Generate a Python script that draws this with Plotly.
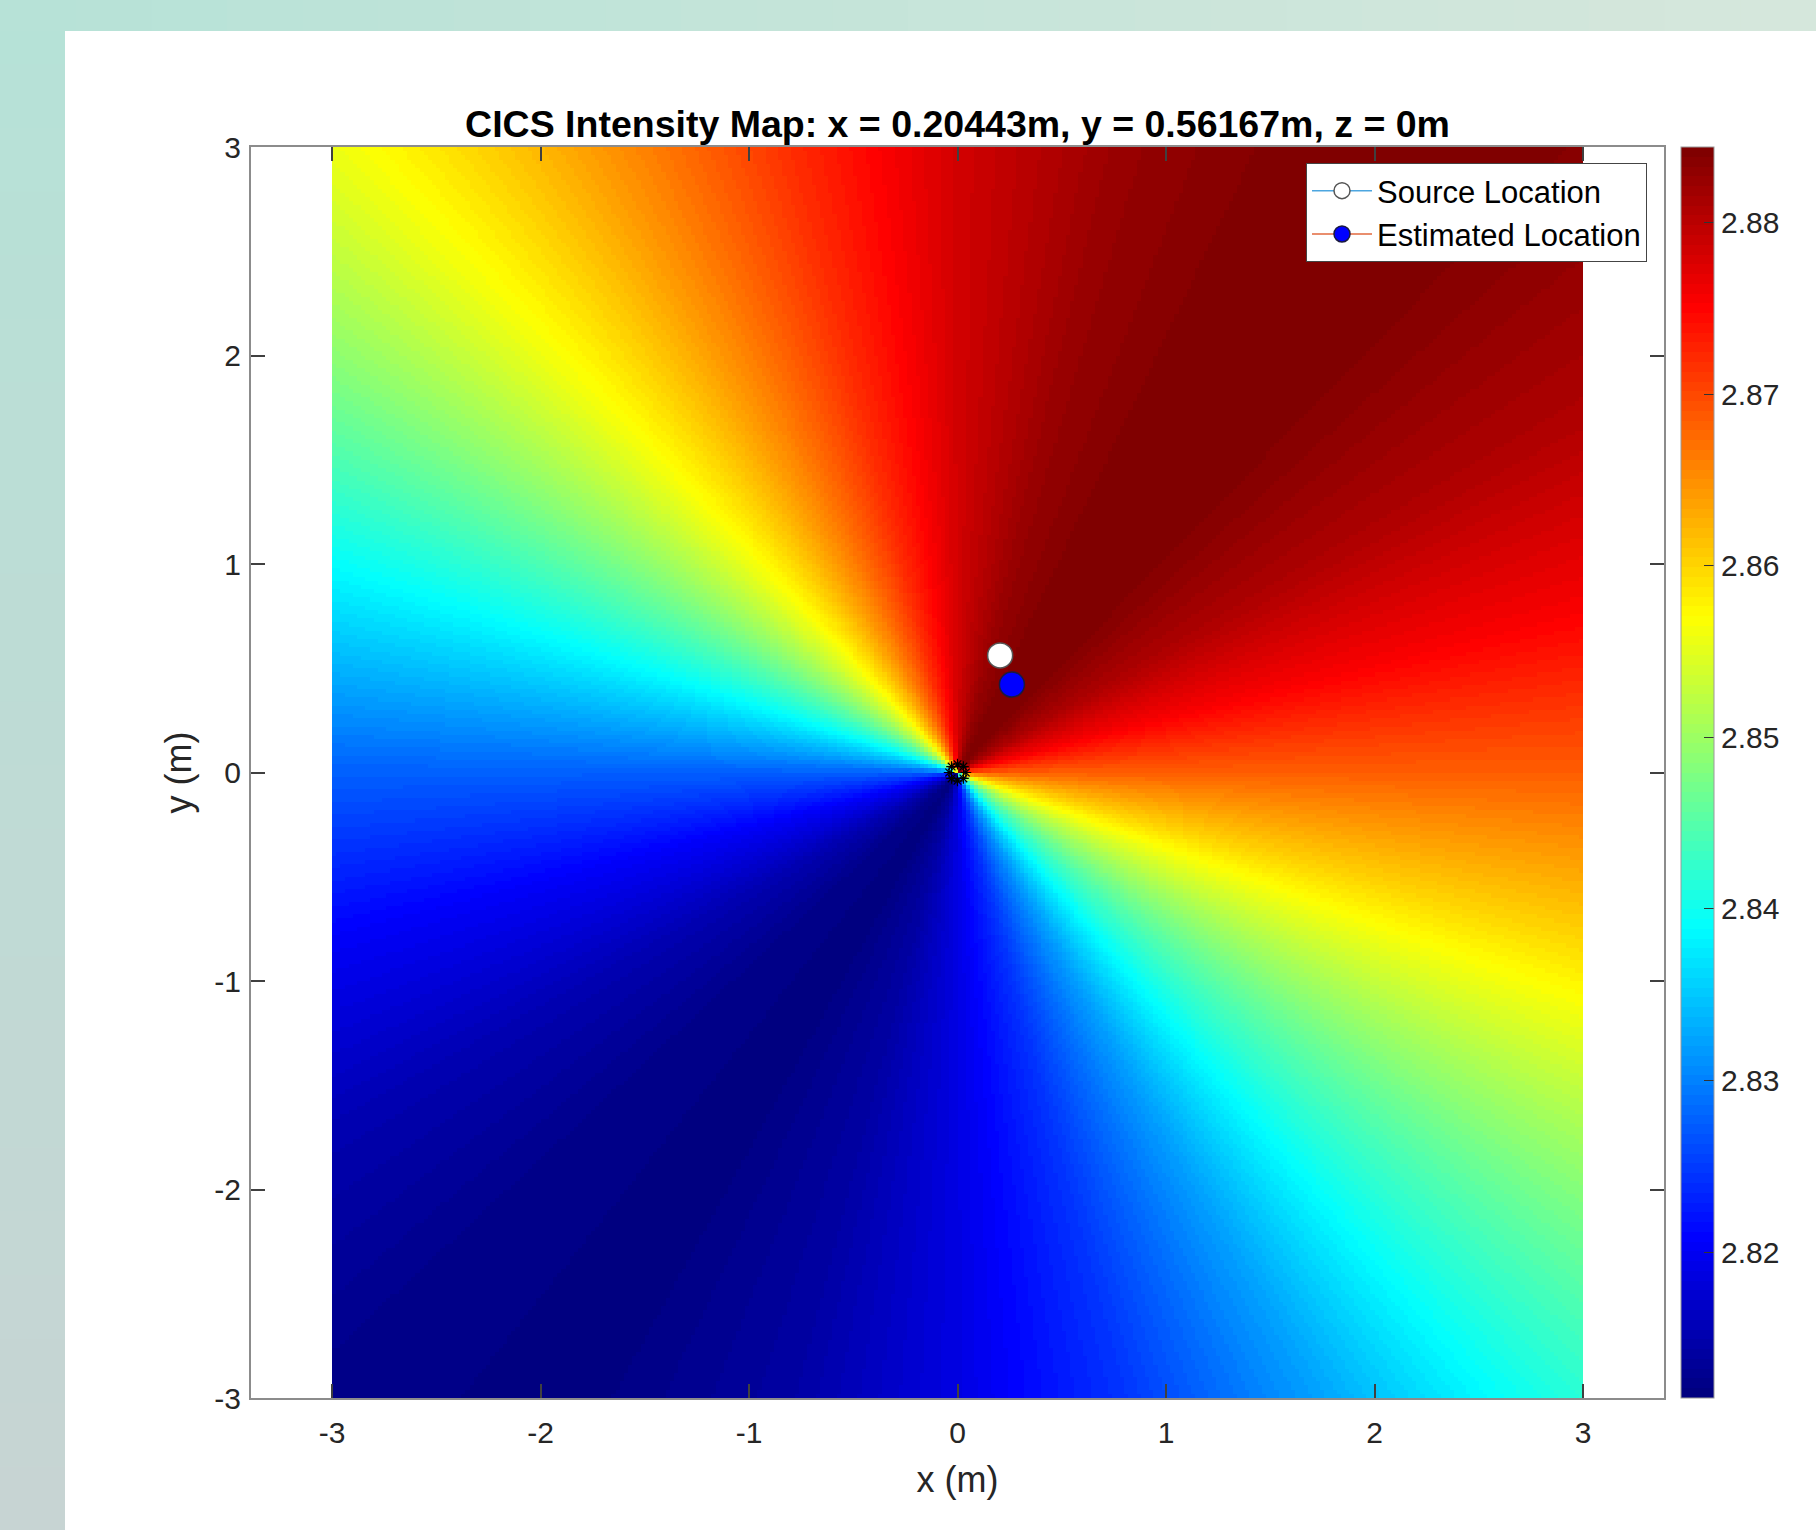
import numpy as np
import plotly.graph_objects as go

# ---------------- data ----------------
# intensity along directions around the array centre (degrees from +x axis)
angle_deg = [0, 15, 30, 45, 60, 75, 90, 105, 120, 135, 150, 165,
             180, 195, 210, 225, 240, 255, 270, 285, 300, 315, 330, 345]
intensity = [2.8684, 2.8756, 2.8808, 2.8838, 2.8844, 2.8825, 2.8783, 2.8719,
             2.8642, 2.8558, 2.8465, 2.8368, 2.8276, 2.8204, 2.8152, 2.8122,
             2.8119, 2.8142, 2.8188, 2.8245, 2.8322, 2.8418, 2.8506, 2.8599]
map_extent = [-3, 3]          # metres, square map
z_min, z_max = 2.8115, 2.8844

source_x, source_y = [0.20443], [0.56167]
estimated_x, estimated_y = [0.261], [0.422]
mic_angle_deg = [0, 45, 90, 135, 180, 225, 270, 315]
mic_radius = 0.04

x_tick_vals = [-3, -2, -1, 0, 1, 2, 3]
x_tick_text = ["-3", "-2", "-1", "0", "1", "2", "3"]
y_tick_vals = [-3, -2, -1, 0, 1, 2, 3]
y_tick_text = ["-3", "-2", "-1", "0", "1", "2", "3"]
cbar_tick_vals = [2.82, 2.83, 2.84, 2.85, 2.86, 2.87, 2.88]
cbar_tick_text = ["2.82", "2.83", "2.84", "2.85", "2.86", "2.87", "2.88"]

title_text = "CICS Intensity Map: x = 0.20443m, y = 0.56167m, z = 0m"

# ---------------- build the map grid ----------------
step = 0.02
centers = np.arange(map_extent[0] + step / 2, map_extent[1], step)
GX, GY = np.meshgrid(centers, centers)
theta = np.degrees(np.arctan2(GY, GX)) % 360
Z = np.interp(theta, angle_deg, intensity, period=360)

# discretised jet colormap
def jet(n):
    out = []
    for i in range(n):
        t = i / (n - 1)
        r = np.clip(1.5 - abs(4 * t - 3), 0, 1)
        g = np.clip(1.5 - abs(4 * t - 2), 0, 1)
        b = np.clip(1.5 - abs(4 * t - 1), 0, 1)
        out.append(f"rgb({int(round(r*255))},{int(round(g*255))},{int(round(b*255))})")
    return out

N = 128
cols = jet(N)
cscale = []
for i, c in enumerate(cols):
    cscale.append([i / N, c])
    cscale.append([(i + 1) / N, c])

FONT = "Liberation Sans, Arial, Helvetica, sans-serif"

fig = go.Figure()
fig.add_trace(go.Heatmap(
    x=centers, y=centers, z=Z, zmin=z_min, zmax=z_max,
    colorscale=cscale, hoverinfo="skip", showlegend=False,
    colorbar=dict(
        x=1.012, xanchor="left", y=0.5, yanchor="middle", len=1, lenmode="fraction",
        thickness=33, xpad=0, ypad=0, outlinecolor="#9a9a9a", outlinewidth=1,
        ticks="inside", ticklen=10, tickcolor="#333333", tickwidth=1,
        tickvals=cbar_tick_vals, ticktext=cbar_tick_text,
        tickfont=dict(family=FONT, size=30, color="#262626"),
    ),
))

mx = [mic_radius * np.cos(np.radians(a)) for a in mic_angle_deg]
my = [mic_radius * np.sin(np.radians(a)) for a in mic_angle_deg]
fig.add_trace(go.Scatter(
    x=mx, y=my, mode="markers", showlegend=False, hoverinfo="skip",
    marker=dict(symbol="asterisk-open", size=9, color="black",
                line=dict(color="black", width=1.2)),
))

fig.add_trace(go.Scatter(
    x=source_x, y=source_y, mode="lines+markers", name="Source Location",
    line=dict(color="#4DA6E0", width=1.5),
    marker=dict(size=25, color="white", line=dict(color="#555555", width=1.5)),
))
fig.add_trace(go.Scatter(
    x=estimated_x, y=estimated_y, mode="lines+markers", name="Estimated Location",
    line=dict(color="#E2683E", width=1.5),
    marker=dict(size=25, color="#0000FF", line=dict(color="#1a1a40", width=1.5)),
))

W, H = 1816, 1530
L, R, T, B = 251, 152, 147, 132
pw, ph = W - L - R, H - T - B
half = 3 * pw / ph

def px(xp):
    return (xp - L) / pw

def py(yp):
    return (H - B - yp) / ph

def mix(c1, c2, t):
    a = [int(c1[i:i+2], 16) for i in (1, 3, 5)]
    b = [int(c2[i:i+2], 16) for i in (1, 3, 5)]
    return "#" + "".join(f"{int(round(a[k] + (b[k]-a[k])*t)):02x}" for k in range(3))

shapes = []
TL, BL, TR = "#b6e2d7", "#c7d4d3", "#d6e7dc"
nb = 24
for i in range(nb):
    y0p, y1p = H * i / nb, H * (i + 1) / nb + 3
    shapes.append(dict(type="rect", xref="paper", yref="paper", layer="below",
                       x0=px(-5), x1=px(65), y0=py(y1p), y1=py(y0p - (5 if i == 0 else 0)),
                       fillcolor=mix(TL, BL, (i + 0.5) / nb), line=dict(width=0)))
for i in range(nb):
    x0p, x1p = W * i / nb, W * (i + 1) / nb + 3
    shapes.append(dict(type="rect", xref="paper", yref="paper", layer="below",
                       x0=px(x0p - (5 if i == 0 else 0)), x1=px(x1p), y0=py(31), y1=py(-5),
                       fillcolor=mix(TL, TR, (i + 0.5) / nb), line=dict(width=0)))

axis_common = dict(
    ticks="inside", ticklen=14, tickwidth=1.5, tickcolor="#404040",
    showline=True, linecolor="#8c8c8c", linewidth=2, mirror="allticks",
    showgrid=False, zeroline=False,
    tickfont=dict(family=FONT, size=30, color="#262626"),
)

fig.update_layout(
    width=W, height=H, autosize=False,
    margin=dict(l=L, r=R, t=T, b=B, pad=0),
    paper_bgcolor="white", plot_bgcolor="white",
    font=dict(family=FONT, color="#262626"),
    title=dict(text="<b>" + title_text + "</b>", x=0.5, xref="paper", xanchor="center",
               y=1 - 124 / H, yref="container", yanchor="middle",
               font=dict(family=FONT, size=37.5, color="black")),
    xaxis=dict(range=[-half, half], tickvals=x_tick_vals, ticktext=x_tick_text,
               ticklabelstandoff=7,
               title=dict(text="x (m)", font=dict(family=FONT, size=36, color="#262626"), standoff=19),
               **axis_common),
    yaxis=dict(range=[-3, 3], tickvals=y_tick_vals, ticktext=y_tick_text,
               ticklabelstandoff=2,
               title=dict(text="y (m)", font=dict(family=FONT, size=36, color="#262626"), standoff=12),
               **axis_common),
    legend=dict(x=px(1306), y=py(163), xanchor="left", yanchor="top",
                bgcolor="white", bordercolor="#444444", borderwidth=1,
                font=dict(family=FONT, size=31, color="black"),
                tracegroupgap=0, itemsizing="trace", itemwidth=60),
    shapes=shapes,
)

fig.write_html("out.html", config={"displayModeBar": False},
               post_script="document.body.style.margin='0';document.body.style.overflow='hidden';")
